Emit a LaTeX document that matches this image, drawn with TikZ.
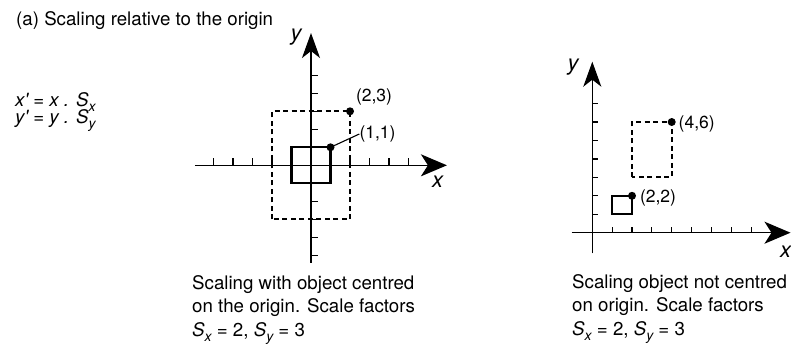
\documentclass[tikz,border=0pt]{standalone}
\usepackage{fontspec}
\setmainfont{TeX Gyre Heros}
\usetikzlibrary{arrows.meta}
\newcommand{\mysub}[1]{\raisebox{-0.32em}{\fontsize{14}{14}\selectfont\itshape #1}}
\tikzset{
  axisline/.style={line width=1.5pt, -{Stealth[length=26pt,width=22pt,inset=7pt]}},
  yaxisline/.style={line width=1.5pt, -{Stealth[length=25pt,width=18pt,inset=7pt]}},
  tickline/.style={line width=1.2pt},
  solidbox/.style={line width=2.2pt},
  dashbox/.style={line width=2.2pt, dash pattern=on 5pt off 3.5pt},
  dot/.style={circle, fill=black, inner sep=0pt, minimum size=8pt},
  txt/.style={inner sep=0pt, anchor=base west, font=\fontsize{18.7}{22}\selectfont},
  ptlabel/.style={inner sep=0pt, font=\fontsize{17.5}{20}\selectfont},
  axlabel/.style={inner sep=0pt, font=\fontsize{22}{24}\selectfont\itshape},
}
\begin{document}
\begin{tikzpicture}[x=1pt,y=-1pt]
\useasboundingbox (0,0) rectangle (791,349);
% title and formulas
\node[txt] (title) at (16,25) {(a) Scaling relative to the origin};
\node[txt] (fx) at (15,106) {\itshape x\textquotesingle\ = x . S\mysub{x}};
\node[txt] (fy) at (15,123) {\itshape y\textquotesingle\ = y . S\mysub{y}};
% left plot
\begin{scope}[shift={(311,165.3)}, x=19.5pt, y=18pt]
  \coordinate (lxs) at (-5.95,0);
  \coordinate (lxe) at (6.97,0);
  \coordinate (lys) at (0,-5.4);
  \coordinate (lye) at (0,7.35);
  \draw[axisline] (lxs) -- (lxe);
  \draw[yaxisline] (lys) -- (lye);
  \foreach \i in {-5,...,-1,1,2,...,5} {
    \draw[tickline] (\i,0) -- ++(0pt,7pt);
    \draw[tickline] (0,\i) -- ++(7pt,0pt);
  }
  \draw[solidbox] (-1,-1) rectangle (1,1);
  \draw[dashbox] (-2,-3) rectangle (2,3);
  \node[dot] (d11) at (1,1) {};
  \node[dot] (d23) at (2,3) {};
\end{scope}
\node[ptlabel] (l23) at (374,96.7) {(2,3)};
\node[ptlabel] (l11) at (377.5,134) {(1,1)};
\draw[line width=1.1pt] (d11.center) -- (l11.west);
\node[axlabel] (lx) at (437.5,181.7) {x};
\node[axlabel] (ly) at (296,37) {y};
\node[txt] (c1a) at (192,289) {Scaling with object centred};
\node[txt] (c1b) at (192,312.5) {on the origin. Scale factors};
\node[txt] (c1c) at (192,336) {{\itshape S}\mysub{x} = 2, {\itshape S}\mysub{y} = 3};
% right plot
\begin{scope}[shift={(592.3,232.7)}, x=19.85pt, y=18.45pt]
  \coordinate (rxs) at (-1.04,0);
  \coordinate (rxe) at (9.985,0);
  \coordinate (rys) at (0,-1.12);
  \coordinate (rye) at (0,9.27);
  \draw[axisline] (rxs) -- (rxe);
  \draw[yaxisline] (rys) -- (rye);
  \foreach \i in {1,...,8} {
    \draw[tickline] (\i,0) -- ++(0pt,6pt);
  }
  \foreach \j in {1,...,7} {
    \draw[tickline] (0,\j) -- ++(6pt,0pt);
  }
  \draw[solidbox] (1,1) rectangle (2,2);
  \draw[dashbox] (2,3) rectangle (4,6);
  \node[dot] (d22) at (2,2) {};
  \node[dot] (d46) at (4,6) {};
\end{scope}
\node[ptlabel] (l22) at (658,198) {(2,2)};
\node[ptlabel] (l46) at (696.7,123.8) {(4,6)};
\node[axlabel] (rx) at (785.5,252) {x};
\node[axlabel] (ry) at (573,67) {y};
\node[txt] (c2a) at (572,288.3) {Scaling object not centred};
\node[txt] (c2b) at (572,311.7) {on origin. Scale factors};
\node[txt] (c2c) at (572,335) {{\itshape S}\mysub{x} = 2, {\itshape S}\mysub{y} = 3};
\end{tikzpicture}
\end{document}
